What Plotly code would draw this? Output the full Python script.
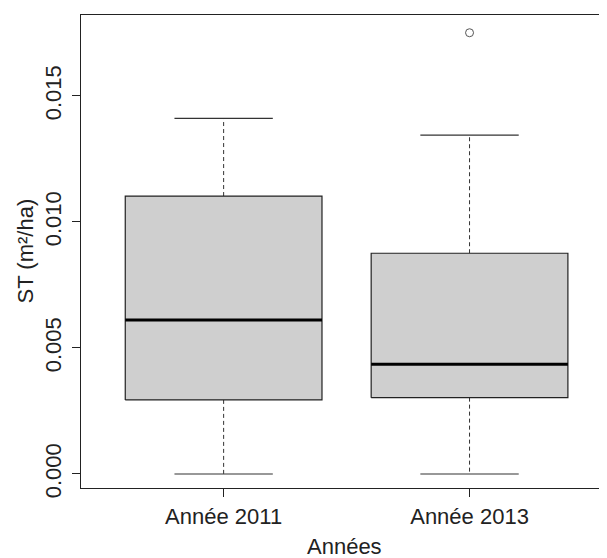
import plotly.graph_objects as go

categories = ["Année 2011", "Année 2013"]
positions = [1, 2]
lower_whisker = [0.0, 0.0]
q1 = [0.00294, 0.00303]
median = [0.00611, 0.00435]
q3 = [0.01103, 0.00876]
upper_whisker = [0.01411, 0.01345]
outlier_pos = [2]
outlier_val = [0.01751]

BOXW = 0.8
CAPW = 0.4
FONT = "Liberation Sans, Arial, sans-serif"

fig = go.Figure()

for p, lw, a, m, b, uw in zip(positions, lower_whisker, q1, median, q3, upper_whisker):
    # whiskers (dashed)
    fig.add_trace(go.Scatter(x=[p, p, None, p, p], y=[a, lw, None, b, uw], mode="lines",
                             line=dict(color="#333", width=1, dash="4px,3px"),
                             showlegend=False, hoverinfo="skip"))
    # caps
    fig.add_trace(go.Scatter(x=[p - CAPW / 2, p + CAPW / 2, None, p - CAPW / 2, p + CAPW / 2],
                             y=[lw, lw, None, uw, uw], mode="lines",
                             line=dict(color="#333", width=1.2),
                             showlegend=False, hoverinfo="skip"))
    # box
    fig.add_trace(go.Scatter(x=[p - BOXW / 2, p + BOXW / 2, p + BOXW / 2, p - BOXW / 2, p - BOXW / 2],
                             y=[a, a, b, b, a], mode="lines", fill="toself",
                             fillcolor="#cfcfcf", line=dict(color="#222", width=1.2),
                             showlegend=False, hoverinfo="skip"))
    # median
    fig.add_trace(go.Scatter(x=[p - BOXW / 2, p + BOXW / 2], y=[m, m], mode="lines",
                             line=dict(color="#000", width=3),
                             showlegend=False, hoverinfo="skip"))

fig.add_trace(go.Scatter(x=outlier_pos, y=outlier_val, mode="markers",
                         marker=dict(symbol="circle-open", size=8, color="#555", line=dict(width=1)),
                         showlegend=False))

# the page body adds an 8px offset; the figure is sized to fill the rest of the window
fig.update_layout(
    width=599, height=550,
    margin=dict(l=73, r=0, t=7, b=70),
    plot_bgcolor="white", paper_bgcolor="white",
    font=dict(family=FONT, size=22, color="#222"),
    xaxis=dict(range=[0.42, 2.559], tickmode="array", tickvals=positions, ticktext=categories,
               showline=True, mirror=True, linecolor="#222", linewidth=1.2,
               ticks="outside", ticklen=8, tickcolor="#222", showgrid=False, zeroline=False,
               automargin=False),
    yaxis=dict(range=[-0.000556, 0.018214], tickvals=[0, 0.005, 0.01, 0.015],
               ticktext=["0.000", "0.005", "0.010", "0.015"], tickangle=-90,
               showline=True, linecolor="#222", linewidth=1.2, ticklabelstandoff=2,
               ticks="outside", ticklen=8, tickcolor="#222", showgrid=False, zeroline=False,
               automargin=False),
    annotations=[
        dict(text="Années", xref="paper", yref="paper", x=0.5, y=0, yshift=-58,
             xanchor="center", yanchor="middle", showarrow=False, font=dict(size=22)),
        dict(text="ST (m²/ha)", xref="paper", yref="paper", x=0, y=0.5, xshift=-56,
             xanchor="center", yanchor="middle", textangle=-90, showarrow=False, font=dict(size=22)),
    ],
)

fig.write_html("out.html")
